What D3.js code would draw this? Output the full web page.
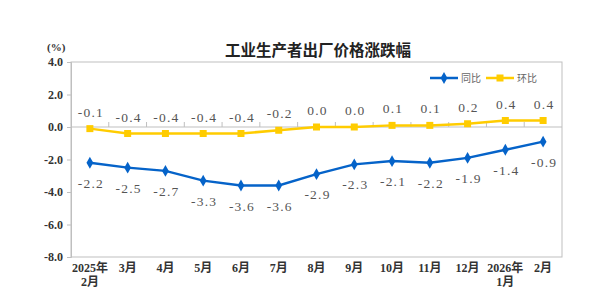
<!DOCTYPE html>
<html>
<head>
<meta charset="utf-8">
<script src="https://cdn.jsdelivr.net/npm/d3@7"></script>
<style>
  body { margin: 0; background: #fff; }
  svg { display: block; }
</style>
</head>
<body>
<svg id="chart"></svg>
<script>
const months = ['2025年\n2月','3月','4月','5月','6月','7月','8月','9月','10月','11月','12月','2026年\n1月','2月']
const yoy = [-2.2,-2.5,-2.7,-3.3,-3.6,-3.6,-2.9,-2.3,-2.1,-2.2,-1.9,-1.4,-0.9]
const mom = [-0.1,-0.4,-0.4,-0.4,-0.4,-0.2,0.0,0.0,0.1,0.1,0.2,0.4,0.4]
const yTicks = [4,2,0,-2,-4,-6,-8]

const width = 600
const height = 305
const padLeft = 71, padRight = 562, padTop = 62, padBottom = 257
const blue = '#0563c9'
const yellow = '#ffcc00'
const gray = '#bfbfbf'
const serif = '"Liberation Serif","Noto Sans CJK SC",serif'

const svg = d3.select('#chart').attr('width', width).attr('height', height)

const x = d3.scaleBand().domain(d3.range(months.length)).range([padLeft, padRight])
const cx = i => x(i) + x.bandwidth() / 2
const y = d3.scaleLinear().domain([-8, 4]).range([padBottom, padTop])

// title
svg.append('text')
  .attr('x', 318).attr('y', 56)
  .attr('text-anchor', 'middle')
  .attr('font-family', '"Noto Sans CJK SC",sans-serif')
  .attr('font-weight', 'bold')
  .attr('font-size', 15.5)
  .attr('fill', '#222')
  .text('工业生产者出厂价格涨跌幅')

svg.append('text')
  .attr('x', 47).attr('y', 51)
  .attr('font-family', serif).attr('font-weight', 'bold')
  .attr('font-size', 11).attr('fill', '#333')
  .text('(%)')

// frame
svg.append('rect')
  .attr('x', padLeft).attr('y', padTop)
  .attr('width', padRight - padLeft).attr('height', padBottom - padTop)
  .attr('fill', 'none').attr('stroke', gray).attr('stroke-width', 1)

// y axis
const yAxis = d3.axisLeft(y).tickValues(yTicks).tickSize(4).tickFormat(d3.format('.1f'))
const gy = svg.append('g').attr('transform', 'translate(' + padLeft + ',0)').call(yAxis)
gy.select('.domain').attr('stroke', gray)
gy.selectAll('.tick line').attr('stroke', gray)
gy.selectAll('.tick text')
  .attr('x', -8)
  .attr('font-family', serif).attr('font-weight', 'bold')
  .attr('font-size', 12).attr('fill', '#333')
  .text(d => d3.format('.1f')(d).replace('−', '-'))

// zero line with ticks between categories
svg.append('line')
  .attr('x1', padLeft).attr('x2', padRight)
  .attr('y1', y(0)).attr('y2', y(0))
  .attr('stroke', gray)
svg.selectAll('.xtick')
  .data(d3.range(1, months.length))
  .enter().append('line')
  .attr('class', 'xtick')
  .attr('x1', d => x(d)).attr('x2', d => x(d))
  .attr('y1', y(0)).attr('y2', y(0) - 5)
  .attr('stroke', gray)

// x labels
const xl = svg.selectAll('.xlab')
  .data(months)
  .enter().append('text')
  .attr('class', 'xlab')
  .attr('text-anchor', 'middle')
  .attr('font-family', serif).attr('font-weight', 'bold')
  .attr('font-size', 12).attr('fill', '#333')
xl.each(function(d, i) {
  const lines = d.split('\n')
  const t = d3.select(this)
  lines.forEach((l, k) => {
    t.append('tspan').attr('x', cx(i)).attr('y', 272 + k * 14).text(l)
  })
})

// lines
const line = d3.line().x((d, i) => cx(i)).y(d => y(d))

svg.append('path').datum(mom)
  .attr('d', line).attr('fill', 'none')
  .attr('stroke', yellow).attr('stroke-width', 2.5)
svg.selectAll('.momPt').data(mom).enter().append('rect')
  .attr('class', 'momPt')
  .attr('x', (d, i) => cx(i) - 3.5).attr('y', d => y(d) - 3.5)
  .attr('width', 7).attr('height', 7).attr('fill', yellow)

svg.append('path').datum(yoy)
  .attr('d', line).attr('fill', 'none')
  .attr('stroke', blue).attr('stroke-width', 2.5)
const diamond = d3.symbol().type(d3.symbolDiamond).size(40)
svg.selectAll('.yoyPt').data(yoy).enter().append('path')
  .attr('class', 'yoyPt')
  .attr('d', diamond)
  .attr('transform', (d, i) => 'translate(' + cx(i) + ',' + y(d) + ')')
  .attr('fill', blue)

// value labels
const fmt = d => d.toFixed(1)
svg.selectAll('.momLab').data(mom).enter().append('text')
  .attr('class', 'momLab')
  .attr('x', (d, i) => cx(i) + 1).attr('y', d => y(d) - 12)
  .attr('text-anchor', 'middle')
  .attr('font-family', serif).attr('font-size', 13.5)
  .attr('letter-spacing', 1.2).attr('fill', '#555')
  .text(fmt)

svg.selectAll('.yoyLab').data(yoy).enter().append('text')
  .attr('class', 'yoyLab')
  .attr('x', (d, i) => cx(i) + 1).attr('y', d => y(d) + 25)
  .attr('text-anchor', 'middle')
  .attr('font-family', serif).attr('font-size', 13.5)
  .attr('letter-spacing', 1.2).attr('fill', '#555')
  .text(fmt)

// legend
const legend = [
  { text: '同比', color: blue, x: 430 },
  { text: '环比', color: yellow, x: 486 }
]
const lg = svg.selectAll('.lg').data(legend).enter().append('g')
  .attr('transform', d => 'translate(' + d.x + ',78)')
lg.append('line').attr('x1', 0).attr('x2', 28)
  .attr('stroke', d => d.color).attr('stroke-width', 2.5)
lg.each(function(d, i) {
  const g = d3.select(this)
  if (i === 0) {
    g.append('path').attr('d', diamond).attr('transform', 'translate(14,0)').attr('fill', d.color)
  } else {
    g.append('rect').attr('x', 10.5).attr('y', -3.5).attr('width', 7).attr('height', 7).attr('fill', d.color)
  }
})
lg.append('text').attr('x', 31).attr('y', 4)
  .attr('font-family', '"Noto Sans CJK SC",sans-serif')
  .attr('font-size', 10).attr('fill', '#666')
  .text(d => d.text)
</script>
</body>
</html>
